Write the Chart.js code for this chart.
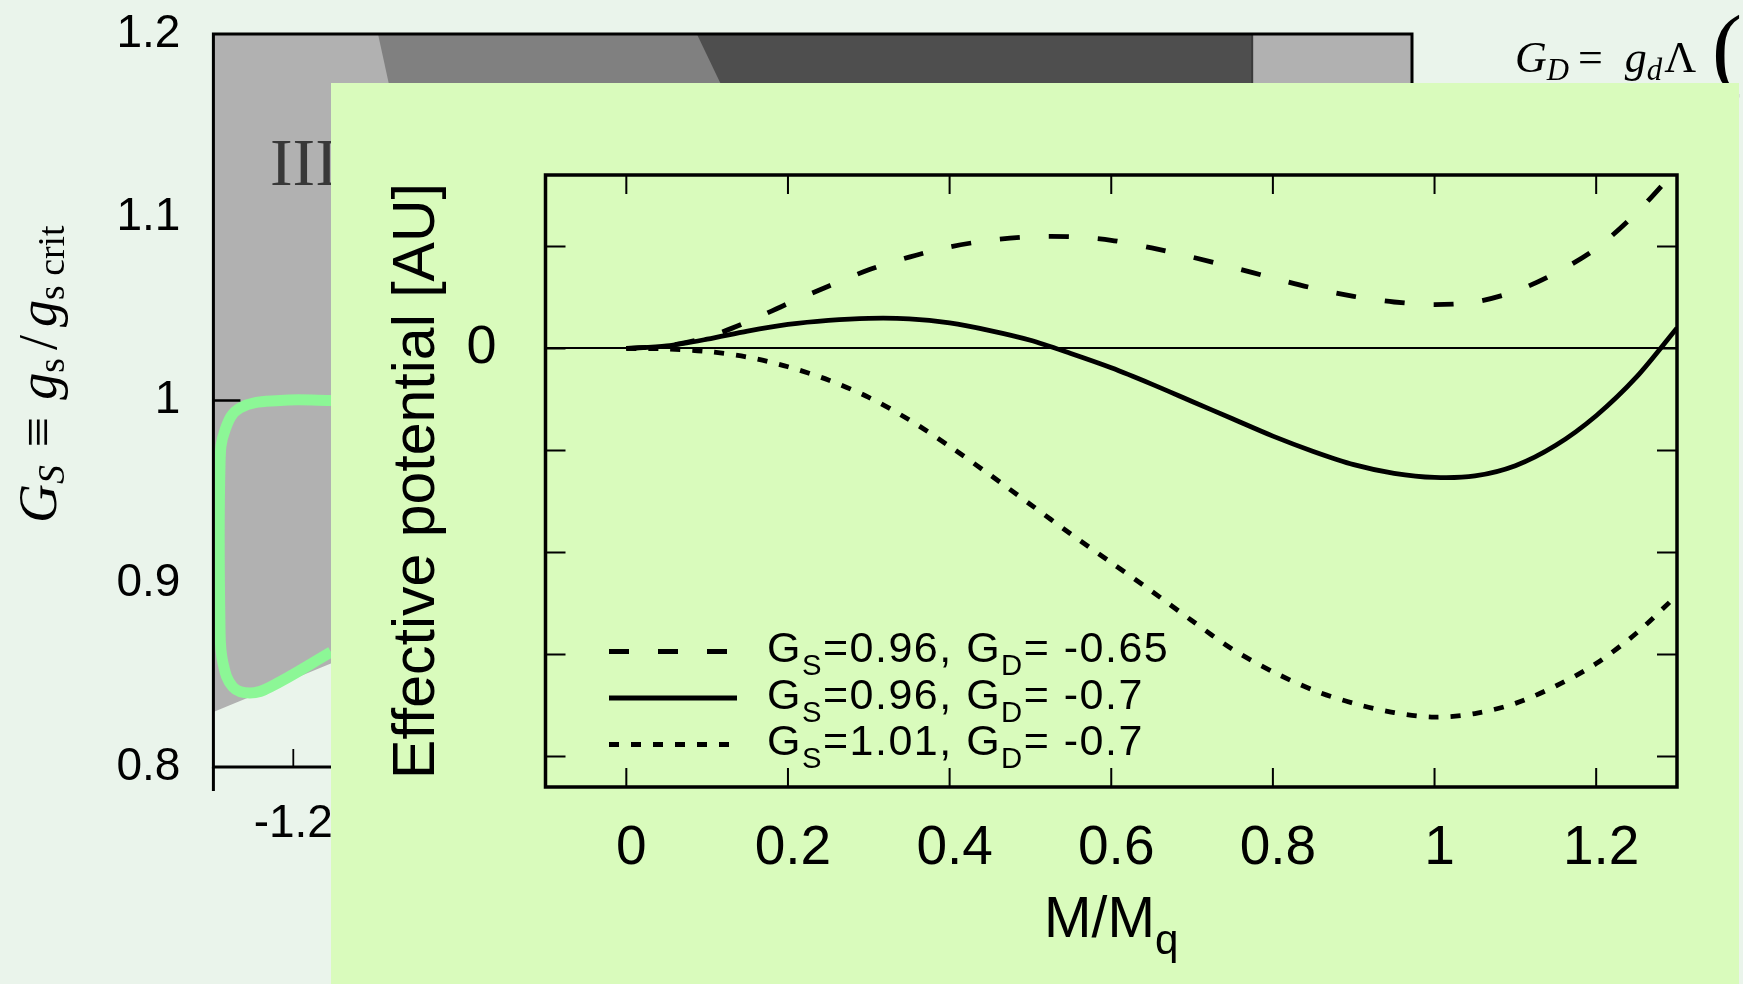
<!DOCTYPE html>
<html>
<head>
<meta charset="utf-8">
<script src="https://cdn.jsdelivr.net/npm/chart.js@4.4.1/dist/chart.umd.min.js"></script>
<style>
  body { margin: 0; background: #eaf4eb; }
  #wrap { position: relative; width: 1743px; height: 984px; overflow: hidden; }
  #bgChart { position: absolute; left: 0; top: 0; }
  #panel { position: absolute; left: 331px; top: 83px; width: 1408px; height: 901px; background: #d9fbbc; }
</style>
</head>
<body>
<div id="wrap">
  <canvas id="bgChart" width="1743" height="984"></canvas>
  <div id="panel"><canvas id="potChart" width="1408" height="901"></canvas></div>
</div>
<script>
// inset: effective potential vs M/Mq
var mValues   = [0, 0.05, 0.1, 0.15, 0.2, 0.25, 0.3, 0.35, 0.4, 0.45, 0.5, 0.55, 0.6, 0.65,
                 0.7, 0.75, 0.8, 0.85, 0.9, 0.95, 1.0, 1.05, 1.1, 1.15, 1.2, 1.25, 1.3];
var potDashed = [0, 0.025, 0.11, 0.26, 0.44, 0.61, 0.77, 0.895, 0.995, 1.06, 1.095, 1.095, 1.06, 0.985,
                 0.895, 0.795, 0.69, 0.59, 0.51, 0.455, 0.43, 0.455, 0.56, 0.74, 0.98, 1.33, 1.76];
var potSolid  = [0, 0.025, 0.09, 0.17, 0.235, 0.275, 0.295, 0.29, 0.25, 0.175, 0.08, -0.05, -0.19, -0.35,
                 -0.52, -0.69, -0.86, -1.01, -1.14, -1.225, -1.265, -1.25, -1.15, -0.95, -0.66, -0.28, 0.2];
var potDotted = [0, -0.005, -0.03, -0.085, -0.18, -0.31, -0.48, -0.70, -0.96, -1.24, -1.53, -1.82, -2.1, -2.38,
                 -2.67, -2.95, -3.17, -3.35, -3.48, -3.57, -3.615, -3.58, -3.48, -3.31, -3.09, -2.79, -2.42];
var legendGS = ['0.96', '0.96', '1.01'];
var legendGD = ['-0.65', '-0.7', '-0.7'];
var xTickValues = [0, 0.2, 0.4, 0.6, 0.8, 1, 1.2];
var yTickValues = [-4, -3, -2, -1, 0, 1];

// phase diagram behind the inset (mostly hidden)
var bgYTicks = [0.8, 0.9, 1.0, 1.1, 1.2];
var bgXTicks = [-1.2, -1.0, -0.8, -0.6, -0.4, -0.2, 0, 0.2];
var bgYMarked = [1.0];
var regionLight  = [[-1.3, 0.83], [-1.15, 0.857], [-1.0, 0.885], [0.2, 0.885]];
var regionMedium = [[-1.094, 1.2], [-1.069, 1.15], [-0.6, 1.15]];
var regionDark   = [[-0.695, 1.2], [-0.640, 1.15], [0, 1.15]];
var edgeZero     = [[0, 1.2], [0, 1.15]];
var outline = [[-1.1528, 1.0], [-1.2167, 1.0], [-1.2667, 0.9959], [-1.2855, 0.9839], [-1.2917, 0.9658],
               [-1.2917, 0.8747], [-1.2880, 0.8567], [-1.2755, 0.8436], [-1.2542, 0.8404],
               [-1.2292, 0.8436], [-1.1528, 0.8627]];

var SANS = '"Liberation Sans", Arial, sans-serif';
var SERIF = '"Liberation Serif", "Times New Roman", serif';
Chart.defaults.font.family = SANS;
Chart.defaults.color = '#000';

function pairs(xs, ys) {
  return xs.map(function(x, i) { return {x: x, y: ys[i]}; });
}
function toPts(list) {
  return list.map(function(p) { return {x: p[0], y: p[1]}; });
}

// text with subscripts
function drawParts(ctx, parts, x, y, opt, dryRun) {
  var x0 = x;
  parts.forEach(function(p) {
    var size = p.sub ? opt.size * opt.subScale : opt.size;
    ctx.font = (p.italic ? 'italic ' : '') + size + 'px ' + opt.family;
    if (!dryRun) ctx.fillText(p.t, x, y + (p.sub ? opt.subShift : 0));
    x += ctx.measureText(p.t).width + (p.gap || 0);
  });
  return x - x0;
}

function legendParts(i) {
  return [{t: 'G'}, {t: 'S', sub: true}, {t: '=' + legendGS[i] + ', G'}, {t: 'D', sub: true}, {t: '= ' + legendGD[i]}];
}

var potDecor = {
  id: 'potDecor',
  afterDraw: function(chart) {
    var ctx = chart.ctx, a = chart.chartArea, xs = chart.scales.x, ys = chart.scales.y;
    ctx.save();
    ctx.strokeStyle = '#000';
    ctx.lineWidth = 2;
    ctx.beginPath();
    xTickValues.forEach(function(v) {
      var px = xs.getPixelForValue(v);
      ctx.moveTo(px, a.bottom); ctx.lineTo(px, a.bottom - 19);
      ctx.moveTo(px, a.top); ctx.lineTo(px, a.top + 19);
    });
    yTickValues.forEach(function(v) {
      var py = ys.getPixelForValue(v);
      ctx.moveTo(a.left, py); ctx.lineTo(a.left + 20, py);
      ctx.moveTo(a.right, py); ctx.lineTo(a.right - 20, py);
    });
    ctx.stroke();
    ctx.lineWidth = 3.5;
    ctx.strokeRect(a.left, a.top, a.right - a.left, a.bottom - a.top);

    // legend
    ctx.fillStyle = '#000';
    ctx.textAlign = 'left';
    ctx.textBaseline = 'alphabetic';
    chart.data.datasets.forEach(function(ds, i) {
      var base = a.bottom - 125 + i * 46.5;
      ctx.lineWidth = ds.borderWidth;
      ctx.lineCap = 'butt';
      ctx.setLineDash(ds.borderDash || []);
      ctx.beginPath();
      ctx.moveTo(a.left + 63.5, base - 10.5);
      ctx.lineTo(a.left + 191.5, base - 10.5);
      ctx.stroke();
      ctx.setLineDash([]);
      ctx.letterSpacing = '1.5px';
      drawParts(ctx, legendParts(i), a.left + 221.5, base, {size: 43, subScale: 0.68, subShift: 13, family: SANS});
      ctx.letterSpacing = '0px';
    });

    // x axis title M/Mq
    var tparts = [{t: 'M/M'}, {t: 'q', sub: true}];
    var topt = {size: 57, subScale: 0.74, subShift: 17, family: SANS};
    var w = drawParts(ctx, tparts, 0, 0, topt, true);
    drawParts(ctx, tparts, (a.left + a.right) / 2 - w / 2, a.bottom + 150, topt);
    ctx.restore();
  }
};

new Chart(document.getElementById('potChart'), {
  type: 'line',
  data: {
    datasets: [
      { data: pairs(mValues, potDashed), borderDash: [20, 29], borderWidth: 4.8 },
      { data: pairs(mValues, potSolid), borderDash: [], borderWidth: 4.8 },
      { data: pairs(mValues, potDotted), borderDash: [10, 12], borderWidth: 4.8 }
    ]
  },
  options: {
    responsive: false,
    animation: false,
    devicePixelRatio: 1,
    layout: { padding: { left: 0, top: 92, right: 62, bottom: 0 } },
    elements: {
      point: { radius: 0 },
      line: { borderColor: '#000', borderCapStyle: 'butt', tension: 0.3, fill: false }
    },
    plugins: { legend: { display: false }, tooltip: { enabled: false } },
    scales: {
      x: {
        type: 'linear', min: -0.1, max: 1.3,
        afterBuildTicks: function(s) { s.ticks = xTickValues.map(function(v) { return {value: v}; }); },
        afterFit: function(s) { s.height = 197; },
        grid: { display: false, drawTicks: false },
        border: { display: false },
        ticks: { padding: 29, labelOffset: 5, font: { size: 55 }, autoSkip: false, maxRotation: 0,
                 callback: function(v) { return String(v); } }
      },
      y: {
        type: 'linear', min: -4.3, max: 1.7,
        afterBuildTicks: function(s) { s.ticks = yTickValues.map(function(v) { return {value: v}; }); },
        afterFit: function(s) { s.width = 214.5; s.paddingTop = 0; s.paddingBottom = 0; },
        grid: {
          drawTicks: false, lineWidth: 2,
          color: function(c) { return c.tick && c.tick.value === 0 ? '#000' : 'rgba(0,0,0,0)'; }
        },
        border: { display: false },
        ticks: { padding: 49, font: { size: 54 }, autoSkip: false,
                 callback: function(v) { return v === 0 ? '0' : ''; } },
        title: { display: true, text: 'Effective potential [AU]', font: { size: 59 }, padding: { top: 51, bottom: 0 } }
      }
    }
  },
  plugins: [potDecor]
});

// background phase diagram
var bgDecor = {
  id: 'bgDecor',
  afterDatasetsDraw: function(chart) {
    var ctx = chart.ctx, a = chart.chartArea, xs = chart.scales.x, ys = chart.scales.y;
    ctx.save();
    ctx.strokeStyle = '#000';
    ctx.lineWidth = 3;
    ctx.strokeRect(a.left, a.top, a.right - a.left, a.bottom - a.top);
    ctx.beginPath();
    ctx.moveTo(a.left, a.bottom); ctx.lineTo(a.left, a.bottom + 24);
    ctx.stroke();
    ctx.lineWidth = 1.8;
    ctx.beginPath();
    bgXTicks.forEach(function(v) {
      var px = xs.getPixelForValue(v);
      ctx.moveTo(px, a.bottom); ctx.lineTo(px, a.bottom - 18);
    });
    ctx.stroke();
    ctx.lineWidth = 2.5;
    ctx.beginPath();
    bgYMarked.forEach(function(v) {
      var py = ys.getPixelForValue(v);
      ctx.moveTo(a.left, py); ctx.lineTo(a.left + 27, py);
    });
    ctx.stroke();

    ctx.fillStyle = '#383838';
    ctx.textAlign = 'left';
    ctx.textBaseline = 'alphabetic';
    ctx.font = '68px ' + SERIF;
    ctx.fillText('III', xs.getPixelForValue(-1.2292), ys.getPixelForValue(1.1175));
    ctx.restore();
  },
  afterDraw: function(chart) {
    var ctx = chart.ctx;
    ctx.save();
    ctx.fillStyle = '#000';
    ctx.textAlign = 'left';
    ctx.textBaseline = 'alphabetic';
    // y axis label
    ctx.translate(56, 523);
    ctx.rotate(-Math.PI / 2);
    drawParts(ctx, [{t: 'G', italic: true}, {t: 'S', italic: true, sub: true, gap: 4}, {t: ' \u2261 ', gap: 4},
                    {t: 'g', italic: true}, {t: 's', sub: true, gap: 8}, {t: '/', gap: 8}, {t: 'g', italic: true},
                    {t: 's crit', sub: true}],
              0, 0, {size: 54, subScale: 0.7, subShift: 8, family: SERIF});
    ctx.restore();

    // formula, top right
    ctx.save();
    ctx.fillStyle = '#000';
    ctx.textBaseline = 'alphabetic';
    drawParts(ctx, [{t: 'G', italic: true}, {t: 'D', italic: true, sub: true, gap: 9}, {t: '=', gap: 22},
                    {t: 'g', italic: true}, {t: 'd', italic: true, sub: true, gap: 2}, {t: '\u039B'}],
              1515, 72, {size: 44, subScale: 0.7, subShift: 8, family: SERIF});
    ctx.font = '90px ' + SERIF;
    ctx.fillText('(', 1712, 78);
    ctx.restore();
  }
};

new Chart(document.getElementById('bgChart'), {
  type: 'line',
  data: {
    datasets: [
      { data: toPts(outline), borderColor: '#8cf796', borderWidth: 11, tension: 0.4, fill: false, order: 1 },
      { data: toPts(edgeZero), borderColor: '#3a3a3a', borderWidth: 2, fill: false, order: 2 },
      { data: toPts(regionDark), borderWidth: 0, borderColor: 'rgba(0,0,0,0)', backgroundColor: '#4e4e4e', fill: 'end', order: 3 },
      { data: toPts(regionMedium), borderWidth: 0, borderColor: 'rgba(0,0,0,0)', backgroundColor: '#808080', fill: 'end', order: 4 },
      { data: toPts(regionLight), borderWidth: 0, borderColor: 'rgba(0,0,0,0)', backgroundColor: '#b1b1b1', fill: 'end', order: 5 }
    ]
  },
  options: {
    responsive: false,
    animation: false,
    devicePixelRatio: 1,
    layout: { padding: { left: 0, top: 34, right: 331, bottom: 0 } },
    elements: { point: { radius: 0 } },
    plugins: { legend: { display: false }, tooltip: { enabled: false } },
    scales: {
      x: {
        type: 'linear', min: -1.3, max: 0.2,
        afterBuildTicks: function(s) { s.ticks = bgXTicks.map(function(v) { return {value: v}; }); },
        afterFit: function(s) { s.height = 217; s.paddingLeft = 0; s.paddingRight = 0; },
        grid: { display: false, drawTicks: false },
        border: { display: false },
        ticks: { padding: 30, font: { size: 46 }, autoSkip: false, maxRotation: 0,
                 callback: function(v) { return String(+v.toFixed(1)); } }
      },
      y: {
        type: 'linear', min: 0.8, max: 1.2,
        afterBuildTicks: function(s) { s.ticks = bgYTicks.map(function(v) { return {value: v}; }); },
        afterFit: function(s) { s.width = 213.4; s.paddingTop = 0; s.paddingBottom = 0; },
        grid: { display: false, drawTicks: false },
        border: { display: false },
        ticks: { padding: 33, font: { size: 46 }, autoSkip: false,
                 callback: function(v) { return String(+v.toFixed(1)); } }
      }
    }
  },
  plugins: [bgDecor]
});
</script>
</body>
</html>
